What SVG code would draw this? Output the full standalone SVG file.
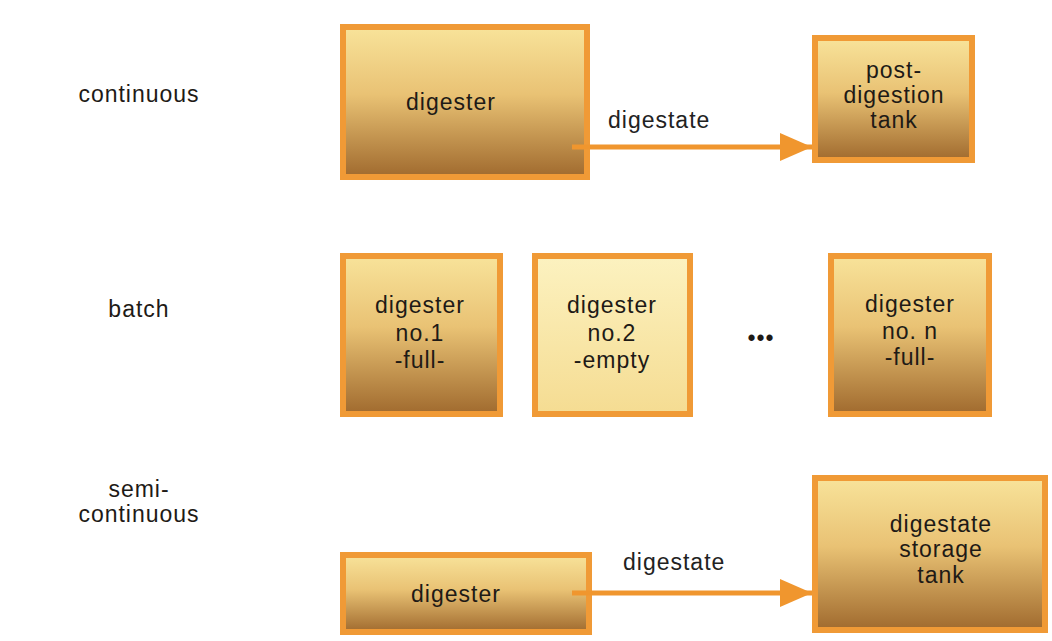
<svg xmlns="http://www.w3.org/2000/svg" width="1052" height="641" viewBox="0 0 1052 641">
  <defs>
    <linearGradient id="gold" x1="0" y1="0" x2="0" y2="1">
      <stop offset="0" stop-color="#f8e39a"/>
      <stop offset="0.45" stop-color="#e9c274"/>
      <stop offset="1" stop-color="#a06a2e"/>
    </linearGradient>
    <linearGradient id="pale" x1="0" y1="0" x2="0" y2="1">
      <stop offset="0" stop-color="#fcf2c0"/>
      <stop offset="1" stop-color="#f5dc92"/>
    </linearGradient>
    <marker id="head" markerUnits="userSpaceOnUse" markerWidth="34" markerHeight="30" refX="32" refY="14" orient="auto">
      <polygon points="0,0 32,14 0,28" fill="#f0962e"/>
    </marker>
    <style>
      .box { fill: url(#gold); stroke: #f09a36; stroke-width: 6; }
      .box.empty { fill: url(#pale); }
      .txt { font-family: "Liberation Sans", Arial, sans-serif; font-size: 23px; letter-spacing: 1px; fill: #1e1a16; text-anchor: middle; }
      .lbl { font-family: "Liberation Sans", Arial, sans-serif; font-size: 23px; letter-spacing: 1px; fill: #222; }
      .flow { stroke: #f0962e; stroke-width: 5; fill: none; }
    </style>
  </defs>

  <rect width="1052" height="641" fill="#ffffff"/>

  <!-- row labels -->
  <g id="row-labels">
    <text class="txt" x="139" y="102">continuous</text>
    <text class="txt" x="139" y="317">batch</text>
    <text class="txt" x="139" y="497">semi-</text>
    <text class="txt" x="139" y="522">continuous</text>
  </g>

  <!-- continuous process -->
  <g id="cont-digester">
    <rect class="box" x="343" y="27" width="244" height="150"/>
    <text class="txt" x="451" y="110">digester</text>
  </g>
  <g id="post-digestion-tank">
    <rect class="box" x="815" y="38" width="157" height="122"/>
    <text class="txt" x="894" y="78">post-</text>
    <text class="txt" x="894" y="103">digestion</text>
    <text class="txt" x="894" y="128">tank</text>
  </g>

  <!-- batch process -->
  <g id="batch-digester-1">
    <rect class="box" x="343" y="256" width="157" height="158"/>
    <text class="txt" x="420" y="313">digester</text>
    <text class="txt" x="420" y="341">no.1</text>
    <text class="txt" x="420" y="368">-full-</text>
  </g>
  <g id="batch-digester-2">
    <rect class="box empty" x="535" y="256" width="155" height="158"/>
    <text class="txt" x="612" y="313">digester</text>
    <text class="txt" x="612" y="341">no.2</text>
    <text class="txt" x="612" y="368">-empty</text>
  </g>
  <g id="batch-ellipsis">
    <text class="txt" x="761" y="346" font-size="26">•••</text>
  </g>
  <g id="batch-digester-n">
    <rect class="box" x="831" y="256" width="158" height="158"/>
    <text class="txt" x="910" y="312">digester</text>
    <text class="txt" x="910" y="339">no. n</text>
    <text class="txt" x="910" y="365">-full-</text>
  </g>

  <!-- semi-continuous process -->
  <g id="semi-digester">
    <rect class="box" x="343" y="555" width="246" height="77"/>
    <text class="txt" x="456" y="602">digester</text>
  </g>
  <g id="storage-tank">
    <rect class="box" x="815" y="478" width="230" height="152"/>
    <text class="txt" x="941" y="532">digestate</text>
    <text class="txt" x="941" y="557">storage</text>
    <text class="txt" x="941" y="583">tank</text>
  </g>

  <!-- connectors -->
  <g id="connectors">
    <line class="flow" x1="572" y1="147" x2="812" y2="147" marker-end="url(#head)"/>
    <text class="lbl" x="608" y="128">digestate</text>
    <line class="flow" x1="572" y1="593" x2="812" y2="593" marker-end="url(#head)"/>
    <text class="lbl" x="623" y="570">digestate</text>
  </g>
</svg>
